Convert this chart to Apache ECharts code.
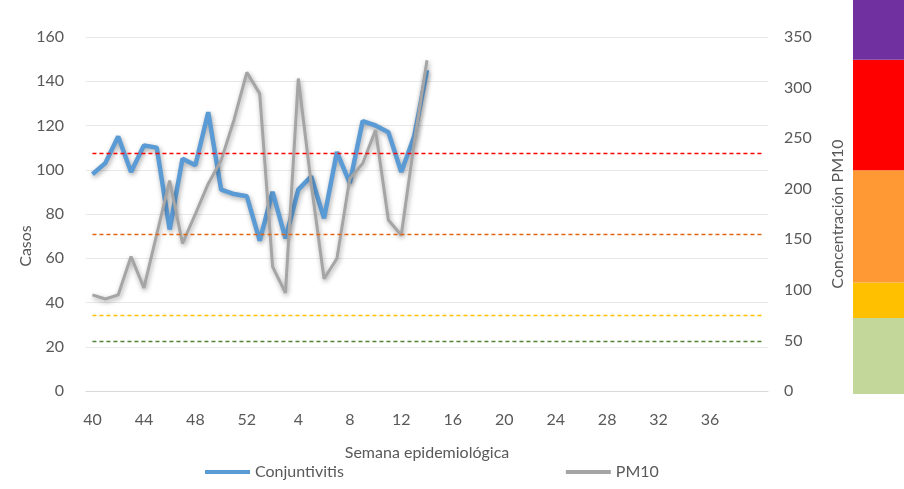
<!DOCTYPE html>
<html lang="es">
<head>
    <meta charset="UTF-8">
    <script src="https://cdn.jsdelivr.net/npm/echarts@6/dist/echarts.min.js"></script>
    <style type="text/css">
        html, body, #main {
            height: 100%;
            width: 100%;
            margin: 0;
            padding: 0;
            background: #fff;
        }
    </style>
    <title>Conjuntivitis y PM10</title>
</head>
<body>
<div id="main"></div>
<script>
    // semanas epidemiologicas (eje x)
    var semanas = ['40', '41', '42', '43', '44', '45', '46', '47', '48', '49', '50', '51', '52',
        '1', '2', '3', '4', '5', '6', '7', '8', '9', '10', '11', '12', '13', '14', '15', '16',
        '17', '18', '19', '20', '21', '22', '23', '24', '25', '26', '27', '28', '29', '30',
        '31', '32', '33', '34', '35', '36', '37', '38', '39', '40'];

    // casos de conjuntivitis (semana 40 a semana 14)
    var conjuntivitis = [98, 103, 115, 99, 111, 110, 73, 105, 102, 126, 91, 89, 88,
        68, 90, 69, 91, 97, 78, 108, 94, 122, 120, 117, 99, 115, 145];

    // concentracion PM10
    var pm10 = [95, 91, 95, 133, 102, 155, 208, 146, 175, 205, 228, 268, 315,
        294, 123, 97, 309, 205, 111, 131, 210, 225, 258, 169, 154, 245, 327];

    // lineas de referencia (eje PM10)
    var umbrales = [
        {valor: 235, color: '#FF0000'},
        {valor: 155, color: '#E2640F'},
        {valor: 75, color: '#FFC000'},
        {valor: 49, color: '#548235'}
    ];

    // barra de colores de la derecha (altura de cada franja)
    var franjas = [
        {nombre: 'Buena', alto: 75, color: '#C4D79B'},
        {nombre: 'Aceptable', alto: 35, color: '#FFC000'},
        {nombre: 'Dañina grupos sensibles', alto: 111, color: '#FF9933'},
        {nombre: 'Dañina', alto: 109, color: '#FF0000'},
        {nombre: 'Muy dañina', alto: 59, color: '#7030A0'}
    ];

    var fuente = 'Lato, "Open Sans", sans-serif';
    var gris = '#595959';
    var sombra = {shadowColor: 'rgba(0,0,0,0.35)', shadowBlur: 5, shadowOffsetX: 1, shadowOffsetY: 2};

    var myChart = echarts.init(document.getElementById('main'));

    var lineas = umbrales.map(function (u) {
        return [
            {coord: [0, u.valor], lineStyle: {color: u.color}},
            {coord: [semanas.length - 1, u.valor]}
        ];
    });

    var option = {
        animation: false,
        textStyle: {fontFamily: fuente},
        grid: [
            {left: 86, right: 136, top: 37, bottom: 98},
            {left: 853, right: 0, top: 0, bottom: 95}
        ],
        legend: {
            data: ['Conjuntivitis', 'PM10'],
            left: 200,
            bottom: 4,
            icon: 'rect',
            itemWidth: 45,
            itemHeight: 4,
            itemGap: 222,
            textStyle: {fontSize: 16, color: gris, fontFamily: fuente}
        },
        xAxis: [
            {
                type: 'category',
                gridIndex: 0,
                data: semanas,
                boundaryGap: true,
                name: 'Semana epidemiológica',
                nameLocation: 'middle',
                nameGap: 54,
                nameTextStyle: {fontSize: 16, color: gris},
                axisTick: {show: false},
                axisLine: {lineStyle: {color: '#D9D9D9'}},
                axisLabel: {
                    fontSize: 16, color: gris, margin: 21,
                    interval: function (i) {
                        return i % 4 === 0 && i < semanas.length - 1;
                    }
                }
            },
            {type: 'category', gridIndex: 1, data: ['ICA'], show: false}
        ],
        yAxis: [
            {
                type: 'value',
                gridIndex: 0,
                min: 0,
                max: 160,
                interval: 20,
                name: 'Casos',
                nameLocation: 'middle',
                nameGap: 52,
                nameMoveOverlap: false,
                nameTextStyle: {fontSize: 16, color: gris, padding: [0, 64, 0, 0]},
                axisLine: {show: false},
                axisTick: {show: false},
                axisLabel: {fontSize: 16, color: gris, margin: 22},
                splitLine: {lineStyle: {color: '#E8E8E8'}}
            },
            {
                type: 'value',
                gridIndex: 0,
                position: 'right',
                min: 0,
                max: 350,
                interval: 50,
                name: 'Concentración PM10',
                nameLocation: 'middle',
                nameGap: 62,
                nameTextStyle: {fontSize: 16, color: gris},
                axisLine: {show: false},
                axisTick: {show: false},
                axisLabel: {fontSize: 16, color: gris, margin: 16},
                splitLine: {show: false}
            },
            {type: 'value', gridIndex: 1, min: 0, max: 389, show: false}
        ],
        series: [
            {
                name: 'Conjuntivitis',
                type: 'line',
                xAxisIndex: 0,
                yAxisIndex: 0,
                data: conjuntivitis,
                showSymbol: false,
                itemStyle: {color: '#5B9BD5'},
                lineStyle: Object.assign({color: '#5B9BD5', width: 4.5}, sombra),
                z: 3
            },
            {
                name: 'PM10',
                type: 'line',
                xAxisIndex: 0,
                yAxisIndex: 1,
                data: pm10,
                showSymbol: false,
                itemStyle: {color: '#A5A5A5'},
                lineStyle: Object.assign({color: '#A5A5A5', width: 3}, sombra),
                markLine: {
                    silent: true,
                    symbol: ['none', 'none'],
                    label: {show: false},
                    lineStyle: {type: [4, 3], width: 1.3},
                    data: lineas
                },
                z: 4
            }
        ].concat(franjas.map(function (f) {
            return {
                name: f.nombre,
                type: 'bar',
                xAxisIndex: 1,
                yAxisIndex: 2,
                stack: 'ica',
                barWidth: '100%',
                data: [f.alto],
                itemStyle: {color: f.color},
                silent: true
            };
        }))
    };

    myChart.setOption(option);
</script>
</body>
</html>
